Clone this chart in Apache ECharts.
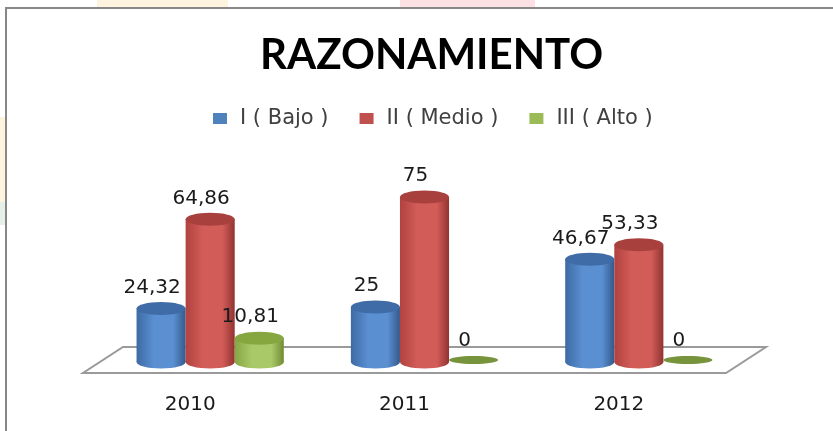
<!DOCTYPE html>
<html>
<head>
<meta charset="utf-8">
<script src="https://cdn.jsdelivr.net/npm/echarts@6/dist/echarts.min.js"></script>
<style>html,body{margin:0;padding:0;background:#fff;overflow:hidden;}#c{width:833px;height:431px;}</style>
</head>
<body>
<div id="c"></div>
<script>
// ---- data ----
const categories = ['2010', '2011', '2012'];
const seriesNames = ['I ( Bajo )', 'II ( Medio )', 'III ( Alto )'];
const bajo = [24.32, 25, 46.67];
const medio = [64.86, 75, 53.33];
const alto = [10.81, 0, 0];
const chartTitle = 'RAZONAMIENTO';

// ---- styles ----
const palettes = [
  {legend: '#4F81BD', edgeL: '#3d6aa3', mid: '#5a8fd2', edgeR: '#33598a', top: '#3f6ca6', flat: '#3f6ca6'},
  {legend: '#C0504D', edgeL: '#b0423f', mid: '#d25c58', edgeR: '#923331', top: '#a8403d', flat: '#a8403d'},
  {legend: '#9BBB59', edgeL: '#86a544', mid: '#a9c968', edgeR: '#6f8b32', top: '#86a640', flat: '#77933c'}
];
const DEPTH_DX = 20, DEPTH_DY = -11;
const FONT = 'DejaVu Sans';

function fmt(v){ return String(v).replace('.', ','); }

function makeRender(si){
  const p = palettes[si];
  return function(params, api){
    const cat = api.value(0), v = api.value(1);
    const base = api.coord([cat, 0]);
    const top = api.coord([cat, v]);
    const catW = api.size([1, 0])[0];
    const bw = catW * 0.229;
    const cx = base[0] + (si - 1) * bw + DEPTH_DX;
    const yb = base[1] + DEPTH_DY;
    const yt = top[1] + DEPTH_DY;
    const rx = bw / 2;
    const children = [];
    if (v > 0) {
      const ry = 6.5;
      const grad = new echarts.graphic.LinearGradient(0, 0, 1, 0, [
        {offset: 0, color: p.edgeL}, {offset: 0.35, color: p.mid}, {offset: 0.75, color: p.mid}, {offset: 1, color: p.edgeR}
      ]);
      children.push({type: 'ellipse', shape: {cx: cx, cy: yb, rx: rx, ry: ry}, style: {fill: grad}});
      children.push({type: 'rect', shape: {x: cx - rx, y: yt, width: bw, height: yb - yt}, style: {fill: grad}});
      children.push({type: 'ellipse', shape: {cx: cx, cy: yt, rx: rx, ry: ry}, style: {fill: p.top}});
    } else {
      children.push({type: 'ellipse', shape: {cx: cx, cy: yb - 2, rx: rx, ry: 4}, style: {fill: p.flat}});
    }
    children.push({type: 'text', x: cx - 9, y: yt - 21, z2: 100,
      style: {text: fmt(v), fill: '#1a1a1a', font: '20px "' + FONT + '"', align: 'center', verticalAlign: 'middle'}});
    return {type: 'group', children: children};
  };
}

function floorRender(params, api){
  const cs = params.coordSys;
  const yF = cs.y + cs.height;
  const pts = [[cs.x, yF], [cs.x + cs.width, yF], [cs.x + cs.width + 2 * DEPTH_DX, yF - 26], [cs.x + 2 * DEPTH_DX, yF - 26]];
  return {type: 'polygon', shape: {points: pts}, style: {fill: '#ffffff', stroke: '#9a9a9a', lineWidth: 2}, z2: -10};
}

const values = [bajo, medio, alto];
const series = [{
  type: 'custom', name: '_floor', silent: true, z: 1,
  data: [[0, 0]], renderItem: floorRender
}];
values.forEach(function(arr, si){
  series.push({
    type: 'custom', name: seriesNames[si], z: 2 + si,
    itemStyle: {color: palettes[si].legend},
    data: arr.map(function(v, i){ return [i, v]; }),
    renderItem: makeRender(si)
  });
});

const chart = echarts.init(document.getElementById('c'), null, {renderer: 'canvas'});
chart.setOption({
  backgroundColor: '#ffffff',
  animation: false,
  title: {text: chartTitle, left: 255, top: 29,
    textStyle: {fontFamily: 'Lato', fontWeight: 'bold', fontSize: 42, color: '#000'}},
  legend: {data: seriesNames, top: 103, left: 208, icon: 'rect', itemWidth: 14, itemHeight: 11, itemGap: 31,
    textStyle: {fontFamily: FONT, fontSize: 21, color: '#404040', padding: [0, 0, 0, 8]}},
  grid: {left: 83, right: 107, bottom: 58, top: 153},
  xAxis: {type: 'category', data: categories,
    axisLine: {show: false}, axisTick: {show: false}, splitLine: {show: false},
    axisLabel: {fontFamily: FONT, fontSize: 20, color: '#1a1a1a', margin: 22}},
  yAxis: {type: 'value', min: 0, max: 100, show: false},
  graphic: [
    {type: 'rect', shape: {x: 97, y: 0, width: 131, height: 7}, style: {fill: '#fdf3df'}, silent: true},
    {type: 'rect', shape: {x: 400, y: 0, width: 135, height: 7}, style: {fill: '#fbe1e4'}, silent: true},
    {type: 'rect', shape: {x: 0, y: 117, width: 5, height: 85}, style: {fill: '#fdf3df'}, silent: true},
    {type: 'rect', shape: {x: 0, y: 202, width: 5, height: 23}, style: {fill: '#e4f0e8'}, silent: true},
    {type: 'polyline', shape: {points: [[850, 8], [6, 8], [6, 440]]}, style: {fill: null, stroke: '#878787', lineWidth: 2}, silent: true}
  ],
  series: series
});
</script>
</body>
</html>
